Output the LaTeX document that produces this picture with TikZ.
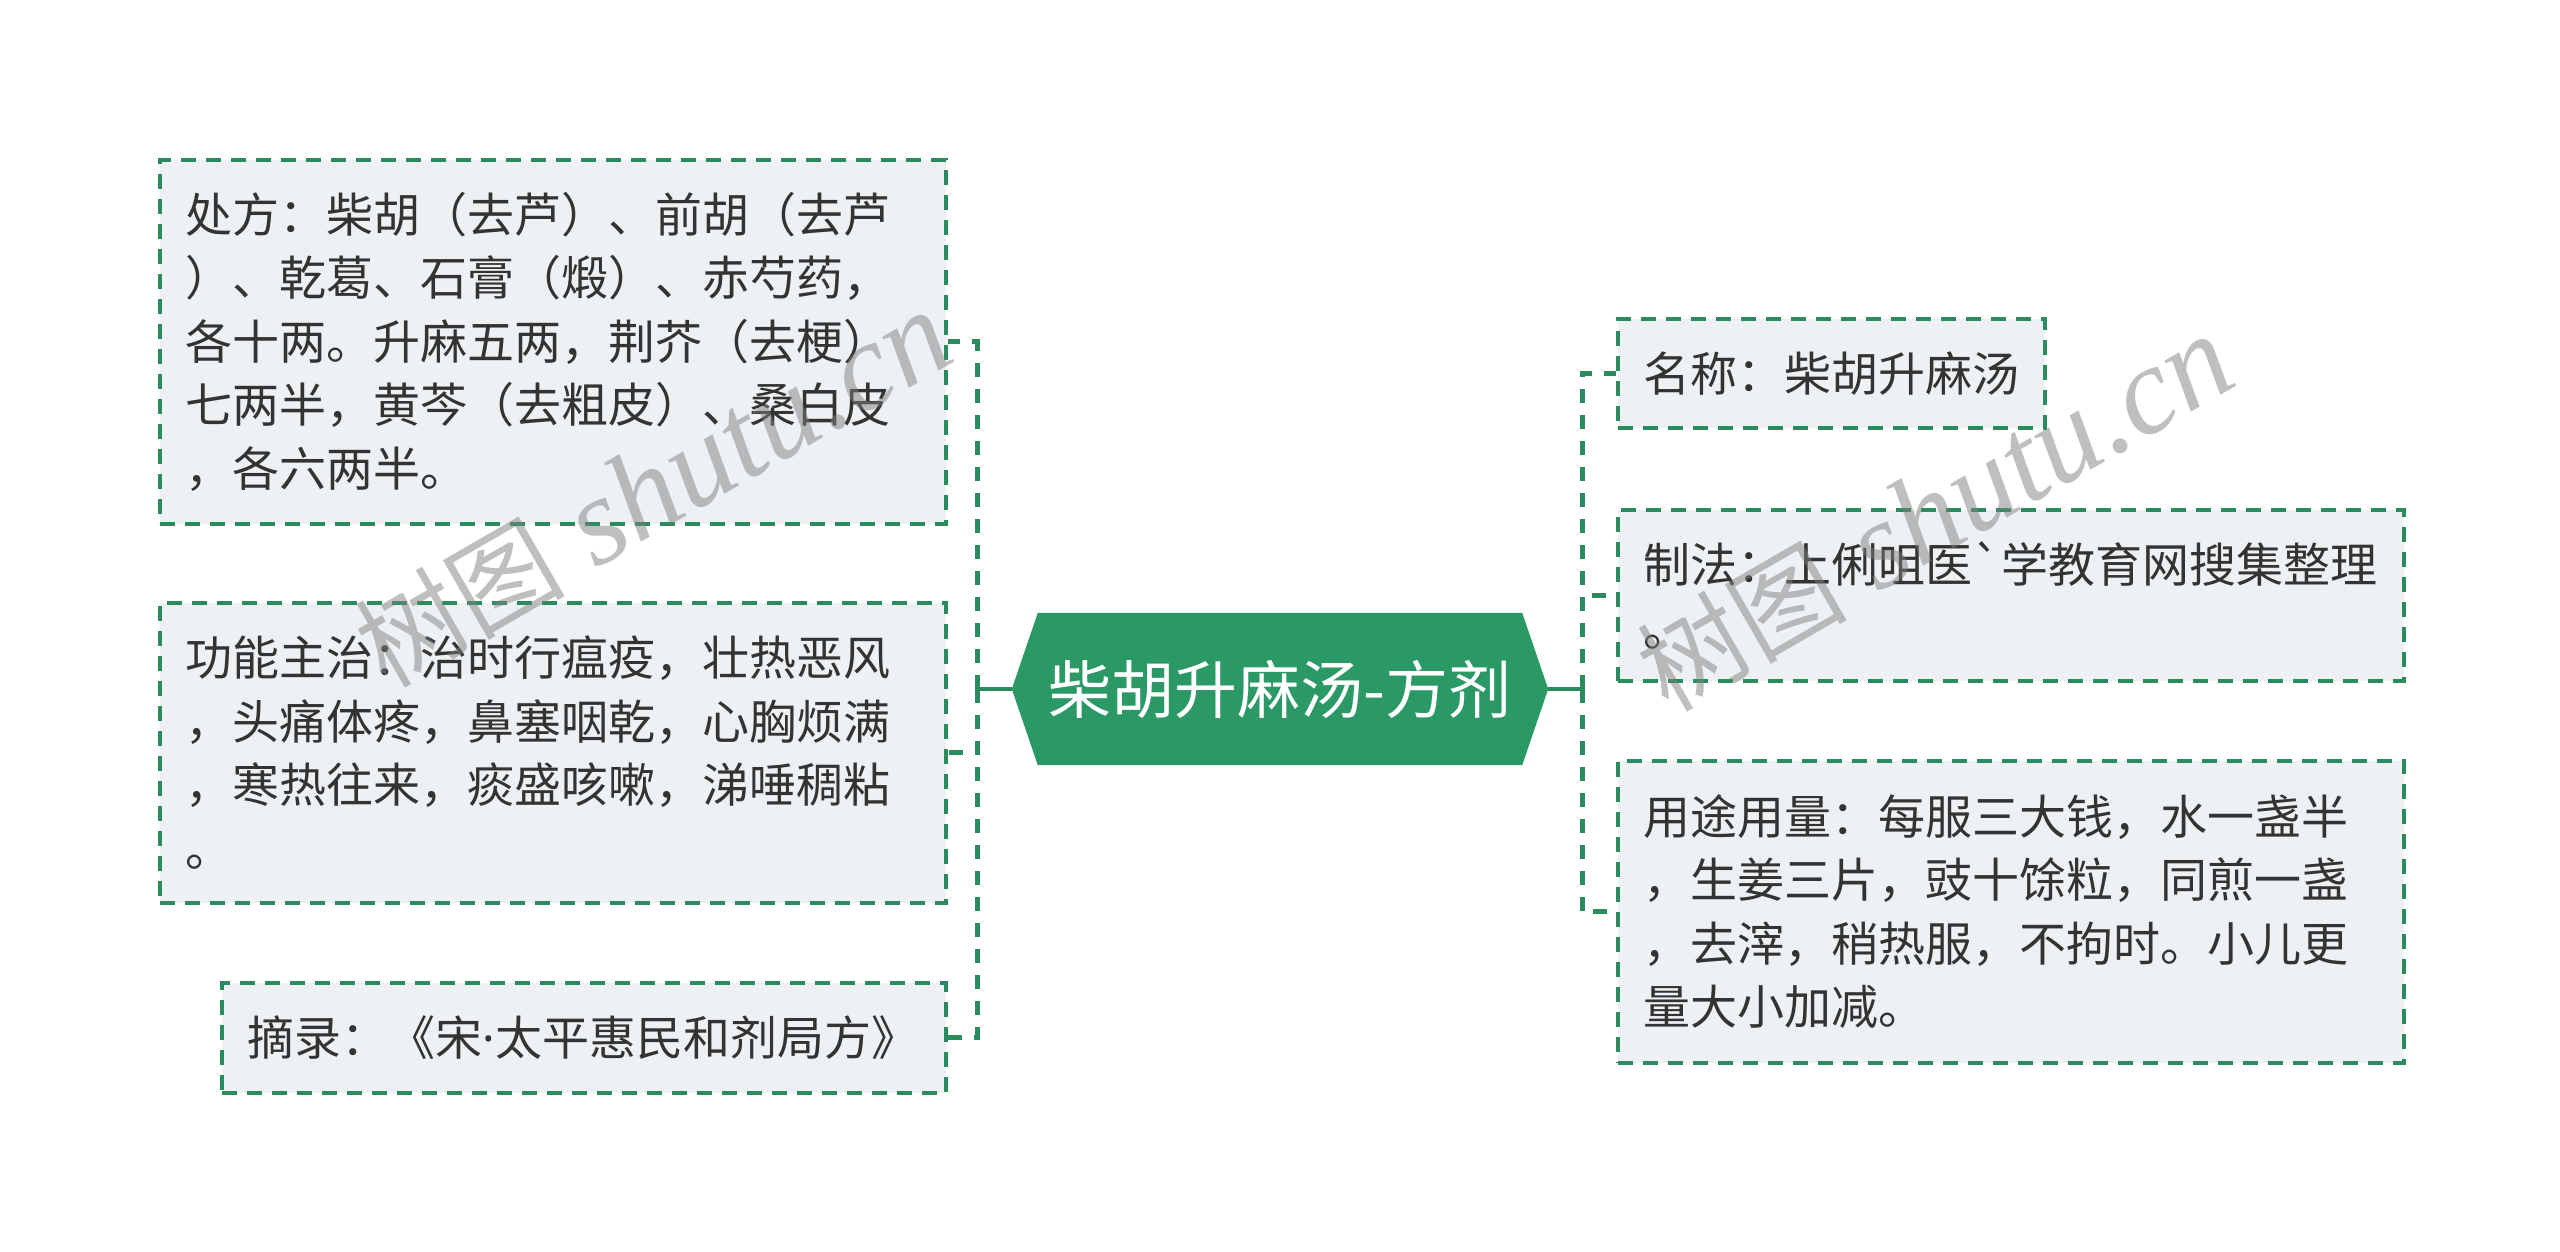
\documentclass[tikz,border=0pt]{standalone}
\usepackage{fontspec}
\newfontfamily\cjkf{Noto Sans CJK SC}
\newfontfamily\latf{Noto Sans}
\newfontfamily\wmserif{Liberation Serif}
\usetikzlibrary{backgrounds}
\definecolor{hexgreen}{HTML}{2A9966}
\definecolor{linegreen}{HTML}{2A8C5E}
\definecolor{boxfill}{HTML}{EEF1F4}
\definecolor{txt}{HTML}{333333}
\begin{document}
\begin{tikzpicture}[x=1pt,y=-1pt,
  box/.style={draw=linegreen, line width=3.5pt, dash pattern=on 15pt off 10pt,
    fill=boxfill, anchor=north west, align=left, inner xsep=26pt, inner ysep=0pt,
    font=\cjkf\fontsize{47}{63.5}\selectfont, text=txt},
  rootnode/.style={font=\cjkf\fontsize{63}{70}\selectfont, text=white, inner sep=0pt},
  branch/.style={draw=linegreen, line width=5pt, dash pattern=on 14pt off 12pt},
  rootline/.style={draw=linegreen, line width=4.5pt},
  wm/.style={text=black!50, text opacity=0.5, inner sep=0pt, rotate=30,
    font=\wmserif\itshape\fontsize{125}{125}\selectfont}
]
\useasboundingbox (0,0) rectangle (2560,1251);

% root
\node[rootnode, minimum width=536pt, minimum height=152pt] (root) at (1280,689) {柴胡升麻汤-方剂};
\begin{scope}[on background layer]
  \fill[white] (0,0) rectangle (2560,1251);
  \fill[hexgreen] (root.west) -- ([xshift=26pt]root.north west) -- ([xshift=-26pt]root.north east)
    -- (root.east) -- ([xshift=-26pt]root.south east) -- ([xshift=26pt]root.south west) -- cycle;
\end{scope}

% left boxes
\node[box, text width=734pt, minimum height=364pt] (b1) at (158,158)
 {处方：柴胡（去芦）、前胡（去芦\\）、乾葛、石膏（煅）、赤芍药，\\各十两。升麻五两，荆芥（去梗）\\七两半，黄芩（去粗皮）、桑白皮\\，各六两半。};
\node[box, text width=734pt, minimum height=300pt] (b2) at (158,601)
 {功能主治：治时行瘟疫，壮热恶风\\，头痛体疼，鼻塞咽乾，心胸烦满\\，寒热往来，痰盛咳嗽，涕唾稠粘\\。};
\node[box, text width=672pt, minimum height=110pt] (b3) at (220,981)
 {摘录：《宋{\latf ·}太平惠民和剂局方》};

% right boxes
\node[box, text width=375pt, minimum height=109pt] (r1) at (1616,317)
 {名称：柴胡升麻汤};
\node[box, text width=734pt, minimum height=171pt] (r2) at (1616,508)
 {制法：上俐咀医`学教育网搜集整理\\。};
\node[box, text width=734pt, minimum height=302pt] (r3) at (1616,759)
 {用途用量：每服三大钱，水一盏半\\，生姜三片，豉十馀粒，同煎一盏\\，去滓，稍热服，不拘时。小儿更\\量大小加减。};

% connectors
\coordinate (lj) at (977,689);
\coordinate (rj) at (1582,689);
\draw[rootline] (root.west) -- (lj);
\draw[rootline] (root.east) -- (rj);
\draw[branch] (lj) |- (b1.east);
\draw[branch] (lj) |- (b2.east);
\draw[branch] (lj) |- (b3.east);
\draw[branch] (rj) |- (r1.west);
\draw[branch] (rj) |- (r2.west);
\draw[branch] (rj) |- (r3.west);

% watermarks
\node[wm] (wm1) at (653,490) {{\cjkf\upshape\fontsize{105}{105}\selectfont 树图} shutu.cn};
\node[wm] (wm2) at (1935,514) {{\cjkf\upshape\fontsize{105}{105}\selectfont 树图} shutu.cn};
\end{tikzpicture}
\end{document}
